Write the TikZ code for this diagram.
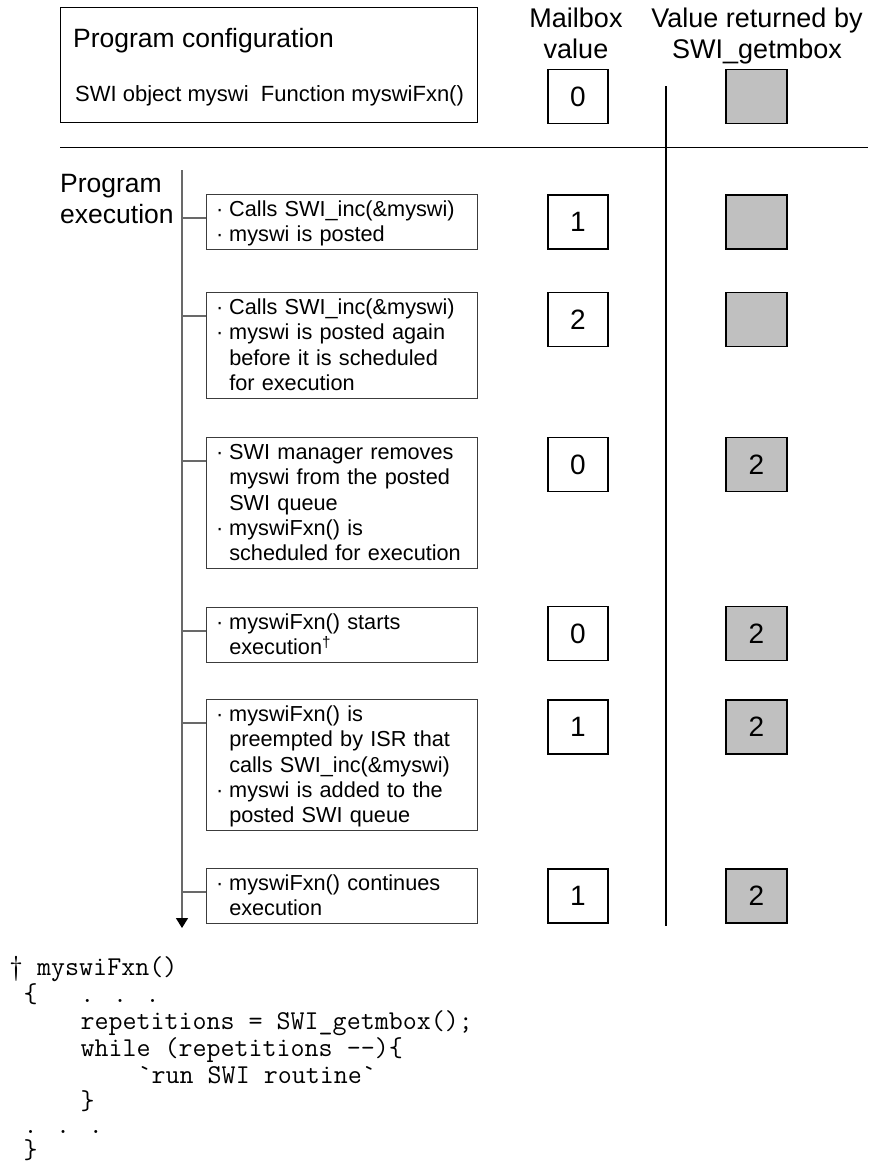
\documentclass[tikz,border=0pt]{standalone}
\usepackage{fontspec}
\setmainfont{Liberation Sans}
\usetikzlibrary{arrows.meta}
\definecolor{boxfill}{RGB}{192,192,192}
\definecolor{tlgray}{RGB}{105,105,105}
\definecolor{stepgray}{RGB}{60,60,60}
\newcommand\stepfont{\fontsize{21.7pt}{25.3pt}\selectfont}
\newcommand\stst{\rule[-5.3pt]{0pt}{25.3pt}}
\newcommand\bul{\stst\makebox[13.2pt][l]{·}}
\newcommand\ind{\stst\hspace*{13.2pt}}
\newcommand\codefont{\fontsize{27.2pt}{27pt}\selectfont\ttfamily}
\newcommand\hdrfont{\fontsize{27pt}{31pt}\selectfont}
\newcommand\numfont{\fontsize{28pt}{28pt}\selectfont}
\begin{document}
\begin{tikzpicture}[x=1pt,y=-1pt,
  stepbox/.style={draw=stepgray, line width=0.9pt, anchor=north west, text width=251.8pt,
    inner xsep=9.6pt, inner ysep=2.2pt, align=left, font=\stepfont},
  mbox/.style={draw=black, line width=1.3pt, minimum width=60pt, minimum height=54pt, inner sep=0pt, font=\numfont},
  gbox/.style={mbox, fill=boxfill, minimum width=61pt},
  lbl/.style={inner sep=0pt},
  code/.style={inner sep=0pt, anchor=base west, font=\codefont},
  sepline/.style={draw=black, line width=1.3pt},
  tlline/.style={draw=tlgray, line width=1.4pt},
  branch/.style={draw=tlgray, line width=1.1pt}]
\useasboundingbox (0,0) rectangle (876,1165);

% configuration box
\node[draw=black, line width=1.4pt, minimum width=417pt, minimum height=115pt, anchor=north west, inner sep=0pt] (cfg) at (60,7) {};
\node[lbl, anchor=base west, font=\fontsize{26.5pt}{30pt}\selectfont] (cfgt) at (73,47) {Program configuration};
\node[lbl, anchor=base west, font=\fontsize{22pt}{26pt}\selectfont] (cfgs) at (75,101) {SWI object myswi\ \ Function myswiFxn()};

% headers (base anchor = baseline of the last line)
\node[lbl, align=center, font=\hdrfont, anchor=base] (hm) at (576,58) {Mailbox\\value};
\node[lbl, align=center, font=\hdrfont, anchor=base] (hv) at (757,58) {Value returned by\\SWI\_getmbox};

% separator lines
\coordinate (hl) at (60,147.5);
\coordinate (hr) at (868,147.5);
\draw[sepline] (hl) -- (hr);
\coordinate (vt) at (666,86);
\coordinate (vb) at (666,926);
\draw[sepline] (vt) -- (vb);

% program execution label and timeline
\node[lbl, align=left, anchor=base west, font=\fontsize{26.5pt}{31pt}\selectfont] (pe) at (60,223) {Program\\execution};
\coordinate (tltop) at (182,170);
\coordinate (tlbot) at (182,928);
\draw[tlline, -{Triangle[length=10pt,width=12pt,color=black]}] (tltop) -- (tlbot);

% step boxes
\node[stepbox] (s1) at (206,194) {\bul Calls SWI\_inc(\&myswi)\\\bul myswi is posted};
\node[stepbox] (s2) at (206,292) {\bul Calls SWI\_inc(\&myswi)\\\bul myswi is posted again\\\ind before it is scheduled\\\ind for execution};
\node[stepbox] (s3) at (206,437) {\bul SWI manager removes\\\ind myswi from the posted\\\ind SWI queue\\\bul myswiFxn() is\\\ind scheduled for execution};
\node[stepbox] (s4) at (206,607) {\bul myswiFxn() starts\\\ind execution\textsuperscript{†}};
\node[stepbox] (s5) at (206,699) {\bul myswiFxn() is\\\ind preempted by ISR that\\\ind calls SWI\_inc(\&myswi)\\\bul myswi is added to the\\\ind posted SWI queue};
\node[stepbox] (s6) at (206,868) {\bul myswiFxn() continues\\\ind execution};

\foreach \i in {1,...,6}{
  \coordinate (b\i) at ([yshift=-24pt]s\i.north west);
  \draw[branch] (b\i) -- (b\i -| tltop);
}

% mailbox values
\node[mbox] (m0) at (578,96.5) {0};
\node[mbox] (m1) at (578,222) {1};
\node[mbox] (m2) at (578,319.5) {2};
\node[mbox] (m3) at (578,464.5) {0};
\node[mbox] (m4) at (578,633.5) {0};
\node[mbox] (m5) at (578,727) {1};
\node[mbox] (m6) at (578,896) {1};

% values returned by SWI_getmbox
\node[gbox] (g0) at (756.5,96.5) {};
\node[gbox] (g1) at (756.5,222) {};
\node[gbox] (g2) at (756.5,319.5) {};
\node[gbox] (g3) at (756.5,464.5) {2};
\node[gbox] (g4) at (756.5,633.5) {2};
\node[gbox] (g5) at (756.5,727) {2};
\node[gbox] (g6) at (756.5,896) {2};

% code
\node[code] (c1) at (9,975) {† myswiFxn()};
\node[code] (c2) at (23.3,1002) {\{\hspace*{42.84pt}. . .};
\node[code] (c3) at (80.4,1029) {repetitions = SWI\_getmbox();};
\node[code] (c4) at (80.4,1056) {while (repetitions -{}-)\{};
\node[code] (c5) at (137.5,1083) {\textasciigrave run SWI routine\textasciigrave};
\node[code] (c6) at (80.4,1109) {\}};
\node[code] (c7) at (23.3,1133) {. . .};
\node[code] (c8) at (23.3,1158) {\}};
\end{tikzpicture}
\end{document}
